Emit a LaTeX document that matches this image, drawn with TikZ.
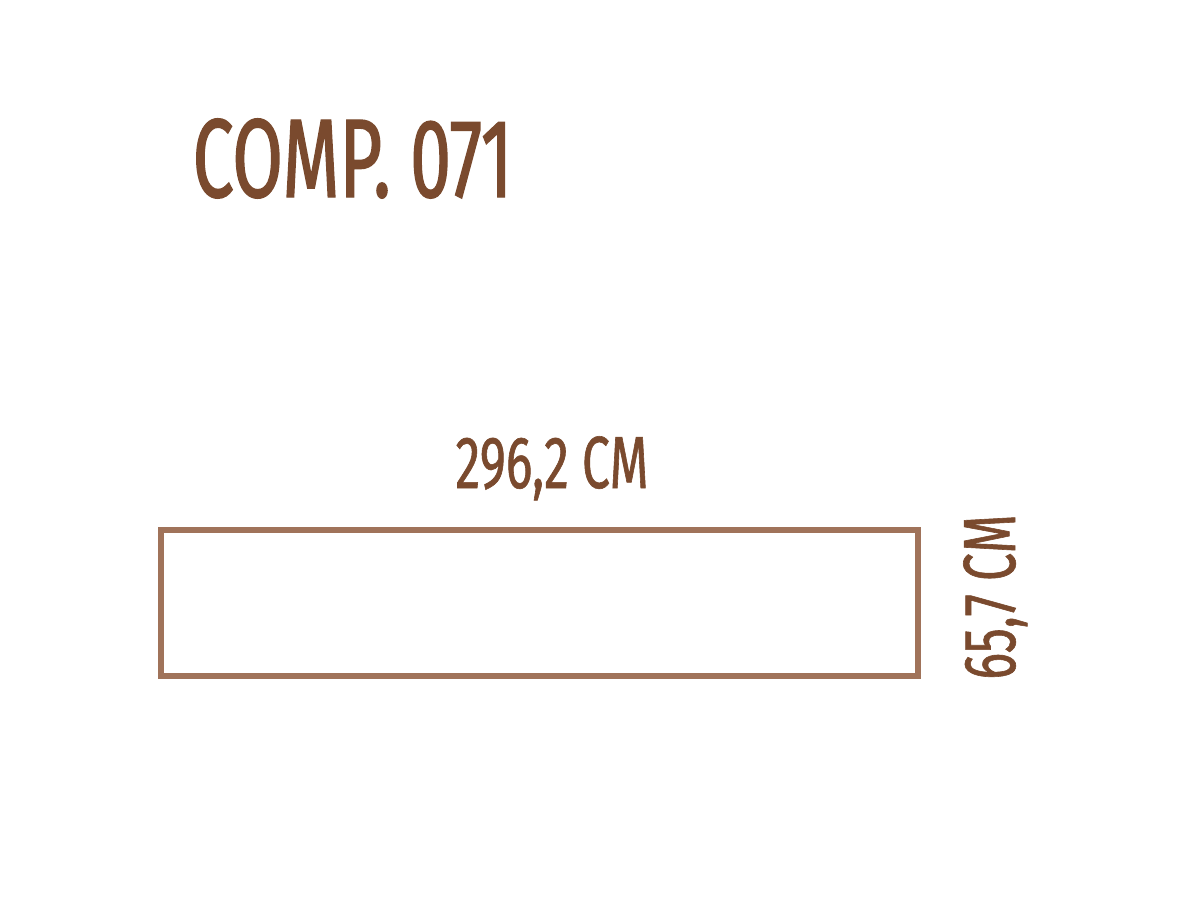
\documentclass[tikz,border=0pt]{standalone}
\usepackage{fontspec}
\newfontfamily\titlefont[FakeStretch=0.655,FakeBold=1.2]{Fira Sans}
\newfontfamily\condfont[FakeStretch=0.675,FakeBold=0.8]{Fira Sans}
\definecolor{txtbrown}{HTML}{7A4A2E}
\definecolor{framebrown}{HTML}{A0735A}
\begin{document}
\begin{tikzpicture}[x=0.01cm,y=-0.01cm,
  lbl/.style={inner sep=0pt, text=txtbrown},
  panel/.style={draw=framebrown, line width=0.06cm}]
\useasboundingbox[fill=white] (0,0) rectangle (1200,900);
\node[lbl, anchor=base west, font=\titlefont\fontsize{31.8pt}{34pt}\selectfont] (title) at (192,197) {COMP. 071};
\draw[panel] (161,530) rectangle (918,676);
\node[lbl, anchor=base, font=\condfont\fontsize{21pt}{24pt}\selectfont] (w) at (552,488) {296,2 CM};
\node[lbl, anchor=base, rotate=90, font=\condfont\fontsize{21pt}{24pt}\selectfont] (h) at (1015,597) {65,7 CM};
\end{tikzpicture}
\end{document}
